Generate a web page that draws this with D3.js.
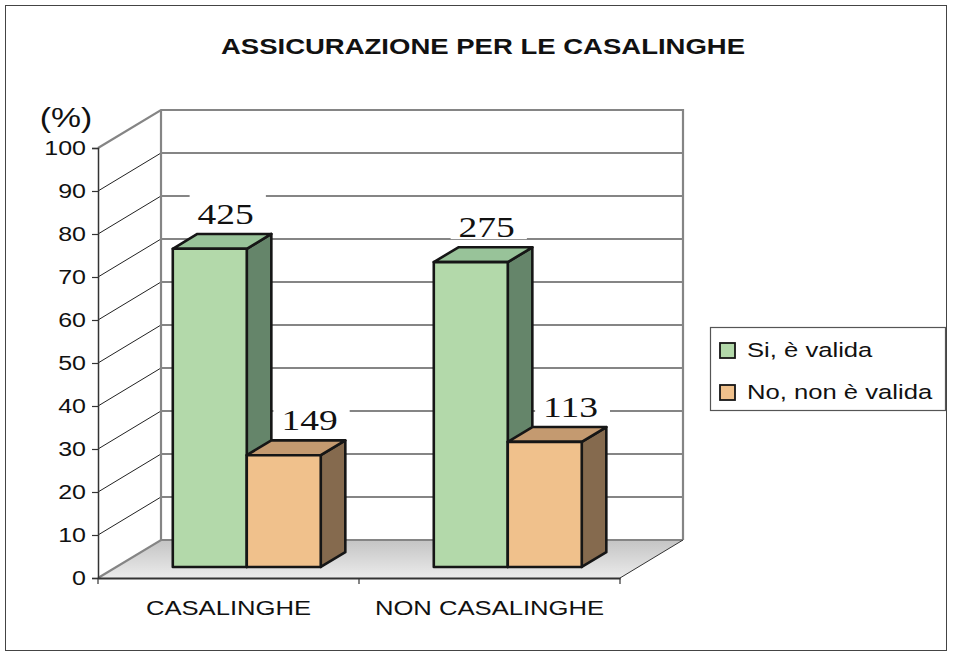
<!DOCTYPE html>
<html><head><meta charset="utf-8">
<script src="https://cdn.jsdelivr.net/npm/d3@7"></script>
<style>html,body{margin:0;padding:0;background:#fff;}svg{display:block;}</style>
</head><body>
<svg id="chart" width="953" height="657"></svg>
<script>
const title = "ASSICURAZIONE PER LE CASALINGHE";
const yAxisTitle = "(%)";
const categories = ["CASALINGHE", "NON CASALINGHE"];
const seriesNames = ["Si, è valida", "No, non è valida"];
const siValues = [74.0, 70.9];
const noValues = [26.0, 29.1];
const siCounts = [425, 275];
const noCounts = [149, 113];
const yTicks = [0, 10, 20, 30, 40, 50, 60, 70, 80, 90, 100];

const seriesValues = [siValues, noValues];
const seriesCounts = [siCounts, noCounts];
const colors = [
  {front: "#b3d9aa", top: "#98c399", side: "#65856a"},
  {front: "#f0c18c", top: "#c49a70", side: "#856a4e"}
];
const K = 1.25; // horizontal stretch of text in the reference
function stretch(sel) {
  sel.each(function () {
    const w = this.getComputedTextLength();
    this.setAttribute("textLength", w * K);
    this.setAttribute("lengthAdjust", "spacingAndGlyphs");
  });
}

const svg = d3.select("#chart");
const sans = "'Liberation Sans', Arial, sans-serif";
const serif = "'Liberation Serif', 'Times New Roman', serif";

// frame
svg.append("rect").attr("x", 5.5).attr("y", 5.5).attr("width", 941).attr("height", 645)
  .attr("fill", "#fff").attr("stroke", "#444").attr("stroke-width", 1);

// 3D geometry
const DX = 63, DY = -38;
const y = d3.scaleLinear().domain([0, 100]).range([578, 148]);
const x0 = d3.scaleBand().domain(categories).range([98, 620]);
const x1 = d3.scaleBand().domain(seriesNames).range([0, x0.bandwidth()]).paddingInner(0).paddingOuter(0.764);
const z = d3.scaleLinear().domain([0, 1]).range([0, 1]);
const off = t => [DX * z(t), DY * z(t)];
const xL = x0.range()[0], xR = x0.range()[1];
const y0 = y(0), y100 = y(100);

const defs = svg.append("defs");
const grad = defs.append("linearGradient").attr("id", "floorGrad").attr("x1", 0).attr("y1", 0).attr("x2", 0).attr("y2", 1);
grad.append("stop").attr("offset", "0%").attr("stop-color", "#c4c4c4");
grad.append("stop").attr("offset", "100%").attr("stop-color", "#ebebeb");

const [bdx, bdy] = off(1);
const poly = pts => pts.map(p => p.join(",")).join(" ");

// back wall
svg.append("polygon")
  .attr("points", poly([[xL + bdx, y100 + bdy], [xR + bdx, y100 + bdy], [xR + bdx, y0 + bdy], [xL + bdx, y0 + bdy]]))
  .attr("fill", "#fff");
// side wall
svg.append("polygon")
  .attr("points", poly([[xL, y0], [xL, y100], [xL + bdx, y100 + bdy], [xL + bdx, y0 + bdy]]))
  .attr("fill", "#fff");
// floor
svg.append("polygon")
  .attr("points", poly([[xL, y0], [xR, y0], [xR + bdx, y0 + bdy], [xL + bdx, y0 + bdy]]))
  .attr("fill", "url(#floorGrad)");

// back wall gridlines
svg.append("g").selectAll("line").data(yTicks.filter(t => t > 0 && t < 100)).join("line")
  .attr("x1", xL + bdx).attr("x2", xR + bdx)
  .attr("y1", d => y(d) + bdy).attr("y2", d => y(d) + bdy)
  .attr("stroke", "#858585").attr("stroke-width", 1.8);
// side wall gridlines
svg.append("g").selectAll("line").data(yTicks.filter(t => t > 0 && t < 100)).join("line")
  .attr("x1", xL).attr("x2", xL + bdx)
  .attr("y1", d => y(d)).attr("y2", d => y(d) + bdy)
  .attr("stroke", "#222").attr("stroke-width", 1);

// wall edges
const edge = "#858585";
svg.append("polyline")
  .attr("points", poly([[xL, y100], [xL + bdx, y100 + bdy], [xR + bdx, y100 + bdy], [xR + bdx, y0 + bdy]]))
  .attr("fill", "none").attr("stroke", edge).attr("stroke-width", 2.2);
svg.append("line").attr("x1", xL + bdx).attr("x2", xL + bdx).attr("y1", y100 + bdy).attr("y2", y0 + bdy)
  .attr("stroke", edge).attr("stroke-width", 2.2);
svg.append("polyline")
  .attr("points", poly([[xL, y0], [xL + bdx, y0 + bdy], [xR + bdx, y0 + bdy]]))
  .attr("fill", "none").attr("stroke", edge).attr("stroke-width", 2.2);
svg.append("line").attr("x1", xR).attr("x2", xR + bdx).attr("y1", y0).attr("y2", y0 + bdy)
  .attr("stroke", "#333").attr("stroke-width", 1);

// Y axis
const yAxis = d3.axisLeft(y).tickValues(yTicks).tickSize(6).tickPadding(6).tickFormat(d3.format("d"));
const yg = svg.append("g").attr("transform", `translate(${xL},0)`).call(yAxis);
yg.select(".domain").attr("stroke", "#333").attr("stroke-width", 1.5);
yg.selectAll(".tick line").attr("stroke", "#333").attr("stroke-width", 1.2);
yg.selectAll(".tick text").attr("font-family", sans).attr("font-size", 20).attr("fill", "#111");
stretch(yg.selectAll(".tick text"));

// X axis (floor front edge)
const xAxis = d3.axisBottom(x0).tickSize(0).tickPadding(22);
const xg = svg.append("g").attr("transform", `translate(0,${y0})`).call(xAxis);
xg.select(".domain").attr("stroke", "#333").attr("stroke-width", 2);
xg.selectAll(".tick text").attr("font-family", sans).attr("font-size", 20.5).attr("fill", "#111");
stretch(xg.selectAll(".tick text"));
// category separators
const seps = [xL].concat(categories.map(c => x0(c) + x0.bandwidth()));
xg.selectAll(".sep").data(seps).join("line").attr("class", "sep")
  .attr("x1", d => d).attr("x2", d => d).attr("y1", 0).attr("y2", 6)
  .attr("stroke", "#333").attr("stroke-width", 1.2);

// bars + labels
const zf = 0.29, zb = 0.68;
const [fdx, fdy] = off(zf);
const ddx = DX * (zb - zf), ddy = DY * (zb - zf);
const bars = [];
categories.forEach((c, ci) => {
  seriesNames.forEach((s, si) => {
    const xl = x0(c) + x1(s) + fdx, xr = xl + x1.bandwidth();
    const yt = y(seriesValues[si][ci]) + fdy, yb = y(0) + fdy;
    bars.push({ci, si, xl, xr, yt, yb, count: seriesCounts[si][ci]});
  });
});

// labels (white boxes behind text)
const lg = svg.append("g");
bars.forEach(b => {
  const g = lg.append("g");
  const t = g.append("text")
    .attr("x", (b.xl + b.xr) / 2 + ddx * (b.si === 0 ? 0.65 : 1.05))
    .attr("y", b.yt - 25)
    .attr("text-anchor", "middle")
    .attr("font-family", serif).attr("font-size", 30).attr("fill", "#111")
    .text(b.count);
  stretch(t);
  const bb = t.node().getBBox();
  g.insert("rect", "text").attr("x", bb.x - 8).attr("y", bb.y - 2)
    .attr("width", bb.width + 20).attr("height", bb.height - 2).attr("fill", "#fff");
});

const bg = svg.append("g").attr("stroke", "#161616").attr("stroke-width", 2.6).attr("stroke-linejoin", "round");
bars.forEach(b => {
  const col = colors[b.si];
  bg.append("polygon").attr("points", poly([[b.xr, b.yt], [b.xr + ddx, b.yt + ddy], [b.xr + ddx, b.yb + ddy], [b.xr, b.yb]]))
    .attr("fill", col.side);
  bg.append("polygon").attr("points", poly([[b.xl, b.yt], [b.xr, b.yt], [b.xr + ddx, b.yt + ddy], [b.xl + ddx, b.yt + ddy]]))
    .attr("fill", col.top);
  bg.append("rect").attr("x", b.xl).attr("y", b.yt).attr("width", b.xr - b.xl).attr("height", b.yb - b.yt)
    .attr("fill", col.front);
});

// title
const tt = svg.append("text").attr("x", 483).attr("y", 54).attr("text-anchor", "middle")
  .attr("font-family", sans).attr("font-weight", "bold").attr("font-size", 22).attr("fill", "#111")
  .text(title);
stretch(tt);

// y axis title
const yt = svg.append("text").attr("x", 66).attr("y", 127).attr("text-anchor", "middle")
  .attr("font-family", sans).attr("font-size", 27).attr("fill", "#111").text(yAxisTitle);
stretch(yt);

// legend
const leg = svg.append("g").attr("transform", "translate(710,327)");
leg.append("rect").attr("x", 0.5).attr("y", 0.5).attr("width", 235).attr("height", 83)
  .attr("fill", "#fff").attr("stroke", "#555").attr("stroke-width", 1.2);
seriesNames.forEach((s, i) => {
  const gy = 16 + i * 42;
  leg.append("rect").attr("x", 10).attr("y", gy).attr("width", 15).attr("height", 15)
    .attr("fill", colors[i].front).attr("stroke", "#161616").attr("stroke-width", 1.8);
  const t = leg.append("text").attr("x", 37).attr("y", gy + 14)
    .attr("font-family", sans).attr("font-size", 20.5).attr("fill", "#111").text(s);
  stretch(t);
});
</script>
</body></html>
